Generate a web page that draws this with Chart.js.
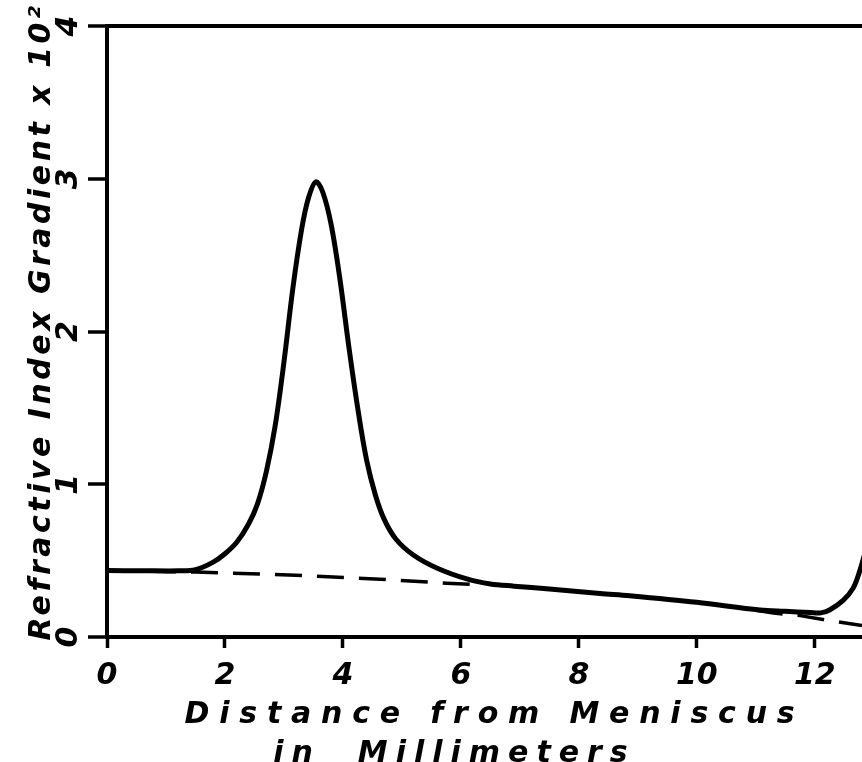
<!DOCTYPE html>
<html>
<head>
<meta charset="utf-8">
<script src="https://cdn.jsdelivr.net/npm/chart.js@4/dist/chart.umd.min.js"></script>
<style>
	html, body {
		margin: 0;
		background: #fff;
	}

	#box {
		width: 862px;
		height: 762px;
	}
</style>
</head>
<body>
<div id="box"><canvas id="chart"></canvas></div>
<script>
// refractive index gradient curve (x in mm, y in units of 10^-2)
const distance = [0, 0.6, 1.2, 1.5, 1.8, 2.0, 2.2, 2.4, 2.55, 2.7, 2.85, 3.0, 3.15, 3.3, 3.42, 3.54,
	3.66, 3.8, 3.95, 4.1, 4.25, 4.4, 4.55, 4.7, 4.9, 5.2, 5.6, 6.1, 6.5, 6.9, 7.5, 8.36,
	8.86, 10, 11.07, 11.5, 11.92, 12.1, 12.25, 12.48, 12.65, 12.76, 12.9];
const gradient = [0.435, 0.434, 0.433, 0.44, 0.49, 0.545, 0.62, 0.74, 0.87, 1.08, 1.38, 1.8, 2.28, 2.67, 2.88, 2.98,
	2.91, 2.7, 2.34, 1.9, 1.5, 1.16, 0.93, 0.77, 0.64, 0.535, 0.45, 0.38, 0.347, 0.333, 0.315, 0.285,
	0.27, 0.227, 0.177, 0.168, 0.16, 0.158, 0.177, 0.24, 0.32, 0.43, 0.62];

// dashed baseline, hidden under the curve in the middle
const baseDistance = [0, 1.5, 3.2, 4.63, 5.76, 6.4, 9, 11, 11.3, 11.75, 12.14, 12.8];
const baseline = [0.435, 0.425, 0.405, 0.378, 0.352, 0.342, null, 0.175, 0.157, 0.14, 0.115, 0.075];

const xTicks = [0, 2, 4, 6, 8, 10, 12];
const yTicks = [0, 1, 2, 3, 4];

const xTitle = ["Distance from Meniscus", "in  Millimeters"];
const yTitle = "Refractive Index Gradient x 10²";

const lettering = "italic bold 30px 'DejaVu Sans'";
const tickFont = {family: "DejaVu Sans", size: 30, style: "italic", weight: "bold"};

const points = (xs, ys) => xs.map((x, i) => ({x, y: ys[i]}));

const axisTitles = {
	id: "axisTitles",
	afterDraw(chart)
	{
		const {ctx, chartArea: {left, right, top, bottom}} = chart;
		const middle = (left + right) / 2;
		ctx.save();
		ctx.fillStyle = "#000";
		ctx.font = lettering;
		ctx.textAlign = "center";
		ctx.textBaseline = "alphabetic";
		ctx.letterSpacing = "9.8px";
		ctx.fillText(xTitle[0], middle + 10, bottom + 86);
		ctx.letterSpacing = "8px";
		ctx.fillText(xTitle[1], middle - 30, bottom + 125);
		ctx.letterSpacing = "3.5px";
		ctx.translate(50, (top + bottom) / 2 - 10);
		ctx.rotate(-Math.PI / 2);
		ctx.fillText(yTitle, 0, 0);
		ctx.restore();
	}
};

new Chart(document.getElementById("chart"), {
	type: "line",
	data: {
		datasets: [
			{
				data: points(distance, gradient),
				borderColor: "#000",
				borderWidth: 5,
				pointRadius: 0,
				tension: 0.35,
				borderCapStyle: "round",
				borderJoinStyle: "round"
			},
			{
				data: points(baseDistance, baseline),
				borderColor: "#000",
				borderWidth: 3.5,
				borderDash: [27, 15],
				pointRadius: 0,
				spanGaps: false
			}
		]
	},
	options: {
		responsive: true,
		maintainAspectRatio: false,
		animation: false,
		layout: {padding: {top: 17, right: 0, bottom: 0, left: 0}},
		plugins: {
			legend: {display: false},
			tooltip: {enabled: false}
		},
		scales: {
			x: {
				type: "linear",
				min: 0,
				max: 12.8,
				afterBuildTicks: scale => scale.ticks = xTicks.map(value => ({value})),
				afterFit: scale => scale.height = 125,
				border: {display: true, color: "#000", width: 4},
				grid: {drawOnChartArea: false, tickLength: 11, tickColor: "#000", tickWidth: 3.5},
				ticks: {color: "#000", font: tickFont, padding: 10, maxRotation: 0}
			},
			y: {
				min: 0,
				max: 4,
				afterBuildTicks: scale => scale.ticks = yTicks.map(value => ({value})),
				afterFit: scale => scale.width = 107,
				border: {display: true, color: "#000", width: 4},
				grid: {
					color: c => c.tick && c.tick.value === 4 ? "#000" : "rgba(0,0,0,0)",
					lineWidth: 4,
					tickLength: 19,
					tickColor: "#000",
					tickWidth: 3.5
				},
				ticks: {color: "#000", font: tickFont, padding: 8, minRotation: 90, maxRotation: 90, crossAlign: "center"}
			}
		}
	},
	plugins: [axisTitles]
});
</script>
</body>
</html>
